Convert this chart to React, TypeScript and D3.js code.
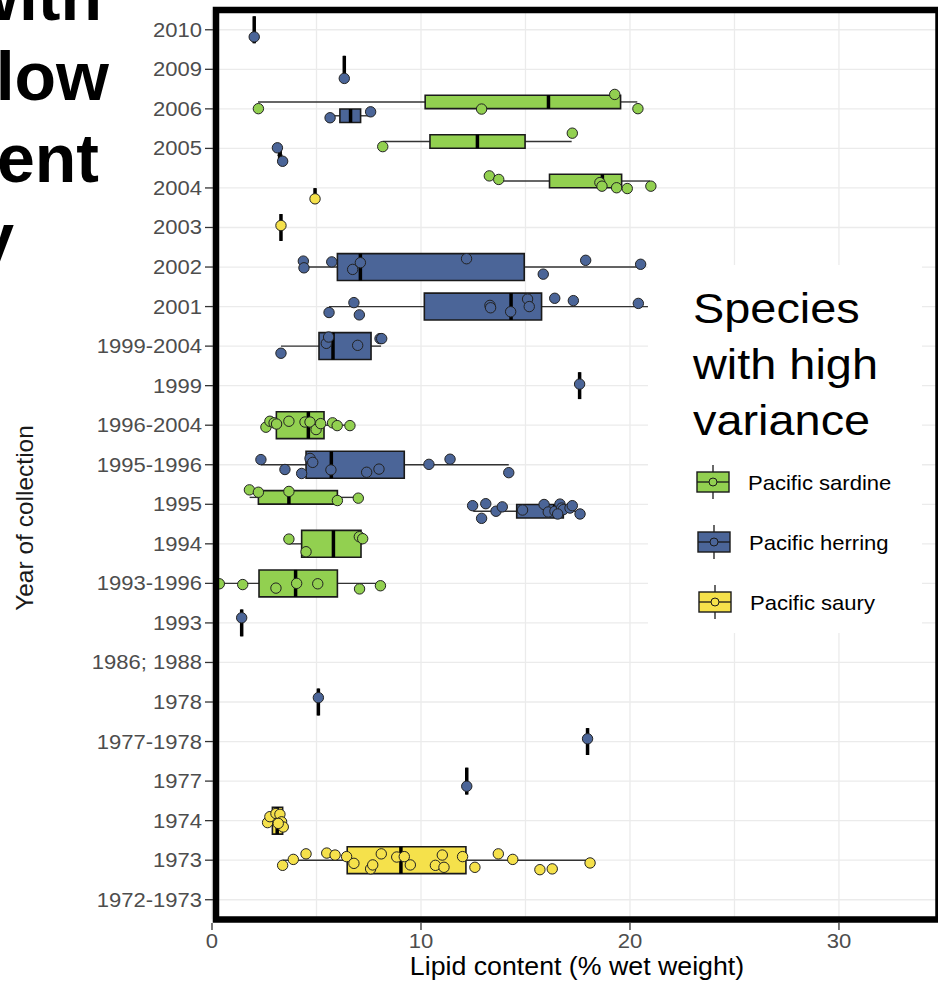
import React from 'react'
import * as d3 from 'd3'

const years = ['2010', '2009', '2006', '2005', '2004', '2003', '2002', '2001', '1999-2004', '1999',
  '1996-2004', '1995-1996', '1995', '1994', '1993-1996', '1993', '1986; 1988', '1978', '1977-1978',
  '1977', '1974', '1973', '1972-1973']
const species = ['Pacific sardine', 'Pacific herring', 'Pacific saury']
const colors = ['#92d050', '#4b6598', '#f5e14b']
const xTicks = [0, 10, 20, 30]
const xGrid = [0, 5, 10, 15, 20, 25, 30]

// [year, lower whisker, q1, median, q3, upper whisker]
const sardineBoxes = [
  ['2006', 2.2, 10.2, 16.1, 19.55, 20.35],
  ['2005', 8.17, 10.43, 12.7, 14.98, 17.21],
  ['2004', 13.5, 16.15, 18.68, 19.6, 20.96],
  ['1996-2004', 2.58, 3.08, 4.61, 5.36, 6.6],
  ['1995', 1.8, 2.22, 3.68, 6.0, 7.03],
  ['1994', 3.7, 4.29, 5.81, 7.13, 7.2],
  ['1993-1996', 0.35, 2.25, 4.0, 6.0, 8.05],
]
const herringBoxes = [
  ['2010', 2.02, 2.02, 2.02, 2.02, 2.02],
  ['2009', 6.33, 6.33, 6.33, 6.33, 6.33],
  ['2006', 5.65, 6.12, 6.63, 7.11, 7.59],
  ['2005', 3.13, 3.19, 3.25, 3.31, 3.38],
  ['2002', 4.37, 6.0, 7.1, 14.94, 20.51],
  ['2001', 5.6, 10.16, 14.31, 15.77, 20.86],
  ['1999-2004', 3.3, 5.12, 5.79, 7.61, 8.09],
  ['1999', 17.59, 17.59, 17.59, 17.59, 17.59],
  ['1995-1996', 2.34, 4.5, 5.71, 9.2, 14.2],
  ['1995', 12.5, 14.58, 16.4, 16.81, 17.61],
  ['1993', 1.42, 1.42, 1.42, 1.42, 1.42],
  ['1978', 5.09, 5.09, 5.09, 5.09, 5.09],
  ['1977-1978', 17.97, 17.97, 17.97, 17.97, 17.97],
  ['1977', 12.19, 12.19, 12.19, 12.19, 12.19],
]
const sauryBoxes = [
  ['2004', 4.93, 4.93, 4.93, 4.93, 4.93],
  ['2003', 3.3, 3.3, 3.3, 3.3, 3.3],
  ['1974', 2.66, 2.89, 3.12, 3.38, 3.41],
  ['1973', 3.38, 6.47, 9.04, 12.15, 18.1],
]

// [year, lipid value, vertical jitter (fraction of a row)]
const sardinePoints = [
  ['2006', 2.22, 0.17], ['2006', 12.9, 0.18], ['2006', 19.27, -0.19], ['2006', 20.38, 0.17],
  ['2005', 8.17, 0.13], ['2005', 17.24, -0.21],
  ['2004', 13.27, -0.13], ['2004', 13.72, -0.04], ['2004', 18.56, 0.04], ['2004', 18.66, 0.13],
  ['2004', 19.36, 0.17], ['2004', 19.87, 0.19], ['2004', 21.0, 0.13],
  ['1996-2004', 2.58, 0.05], ['1996-2004', 2.77, -0.1], ['1996-2004', 2.97, -0.06], ['1996-2004', 3.09, -0.03],
  ['1996-2004', 3.68, -0.1], ['1996-2004', 4.45, -0.08], ['1996-2004', 4.69, -0.08], ['1996-2004', 4.98, 0.11],
  ['1996-2004', 5.2, -0.04], ['1996-2004', 5.77, -0.06], ['1996-2004', 5.99, 0.01], ['1996-2004', 6.6, 0.01],
  ['1995', 1.79, -0.19], ['1995', 2.22, -0.13], ['1995', 3.68, -0.15], ['1995', 6.0, 0.08], ['1995', 7.0, 0.02],
  ['1994', 3.68, -0.12], ['1994', 4.5, 0.2], ['1994', 7.05, -0.18], ['1994', 7.21, -0.13],
  ['1993-1996', 0.35, 0.01], ['1993-1996', 1.47, 0.03], ['1993-1996', 3.06, 0.12], ['1993-1996', 4.05, 0],
  ['1993-1996', 5.06, 0.01], ['1993-1996', 7.06, 0.14], ['1993-1996', 8.06, 0.06],
]
const herringPoints = [
  ['2010', 2.02, 0.18], ['2009', 6.33, 0.23],
  ['2006', 5.65, 0.05], ['2006', 7.59, -0.1],
  ['2005', 3.13, -0.19], ['2005', 3.38, 0.15],
  ['2002', 4.37, -0.15], ['2002', 4.4, 0.02], ['2002', 5.73, -0.13], ['2002', 6.73, 0.06], ['2002', 7.1, -0.11],
  ['2002', 12.18, -0.21], ['2002', 17.88, -0.17], ['2002', 15.85, 0.18], ['2002', 20.51, -0.07],
  ['2001', 5.6, 0.15], ['2001', 6.79, -0.1], ['2001', 7.05, 0.21], ['2001', 13.3, -0.03], ['2001', 13.33, 0.03],
  ['2001', 14.29, 0.13], ['2001', 15.1, -0.19], ['2001', 15.18, 0], ['2001', 16.4, -0.21], ['2001', 17.29, -0.15],
  ['2001', 20.4, -0.08],
  ['1999-2004', 3.3, 0.18], ['1999-2004', 5.47, -0.07], ['1999-2004', 5.58, -0.23], ['1999-2004', 6.97, -0.02],
  ['1999-2004', 8.04, -0.19], ['1999-2004', 8.12, -0.19],
  ['1999', 17.59, -0.04],
  ['1995-1996', 2.34, -0.13], ['1995-1996', 3.49, 0.12], ['1995-1996', 4.29, 0.22], ['1995-1996', 4.69, -0.16],
  ['1995-1996', 4.82, -0.06], ['1995-1996', 5.69, 0.13], ['1995-1996', 7.4, 0.19], ['1995-1996', 7.99, 0.11],
  ['1995-1996', 10.38, -0.01], ['1995-1996', 11.39, -0.14], ['1995-1996', 14.2, 0.2],
  ['1995', 12.47, -0.14], ['1995', 13.1, -0.19], ['1995', 12.9, 0.18], ['1995', 13.59, 0], ['1995', 13.89, -0.11],
  ['1995', 14.86, -0.03], ['1995', 15.89, -0.17], ['1995', 16.09, 0.02], ['1995', 16.41, 0], ['1995', 16.65, -0.18],
  ['1995', 16.73, -0.08], ['1995', 16.81, -0.04], ['1995', 16.54, 0.07], ['1995', 17.13, -0.08], ['1995', 17.24, -0.14],
  ['1995', 17.61, 0.07],
  ['1993', 1.42, -0.13], ['1978', 5.09, -0.11], ['1977-1978', 17.97, -0.07], ['1977', 12.19, 0.13],
]
const sauryPoints = [
  ['2004', 4.93, 0.1], ['2003', 3.3, -0.05],
  ['1974', 2.66, 0.05], ['1974', 2.77, -0.1], ['1974', 3.06, -0.18], ['1974', 3.25, -0.16], ['1974', 3.33, 0.03],
  ['1974', 3.41, 0.16], ['1974', 3.17, 0.07],
  ['1973', 3.38, 0.13], ['1973', 3.89, -0.02], ['1973', 4.5, -0.16], ['1973', 5.49, -0.18], ['1973', 5.89, -0.13],
  ['1973', 6.44, -0.09], ['1973', 6.79, 0.08], ['1973', 7.59, 0.22], ['1973', 7.69, 0.12], ['1973', 8.1, -0.16],
  ['1973', 8.84, -0.08], ['1973', 9.2, -0.09], ['1973', 9.49, 0.12], ['1973', 10.69, 0.13], ['1973', 11.02, -0.13],
  ['1973', 11.1, 0.18], ['1973', 11.99, -0.09], ['1973', 12.58, 0.18], ['1973', 13.7, -0.16], ['1973', 14.39, -0.02],
  ['1973', 15.69, 0.24], ['1973', 16.28, 0.22], ['1973', 18.09, 0.07],
]

const boxesBySpecies: any[][] = [sardineBoxes, herringBoxes, sauryBoxes]
const pointsBySpecies: any[][] = [sardinePoints, herringPoints, sauryPoints]

const font = '"Liberation Sans", Arial, sans-serif'

export default function App() {
  const panel = { left: 216, top: 10, right: 938.5, bottom: 919.5 }
  const x = d3.scaleLinear().domain([0, 34.6]).range([212, 935.1])
  const y = d3.scalePoint().domain(years).range([panel.top, panel.bottom]).padding(0.5)
  const step = y.step()

  // dodge: which species share a row
  const present = (yr: string) => species.map((_, i) => i).filter(i => boxesBySpecies[i].some(b => b[0] === yr))
  const groupCenter = (yr: string, si: number) => {
    const p = present(yr)
    if (p.length < 2) return y(yr) as number
    return (y(yr) as number) + (p.indexOf(si) === 0 ? -0.175 : 0.175) * step
  }
  const groupHeight = (yr: string) => (present(yr).length < 2 ? 0.68 : 0.34) * step

  return (
    <svg width={938} height={983} style={{ position: 'absolute', left: 0, top: 0, background: '#fff' }} fontFamily={font}>
      {/* slide title fragments */}
      <g fontWeight="bold" fontSize={68} textAnchor="end" fill="#000">
        <text x={102} y={20}>with</text>
        <text x={109} y={100}>low</text>
        <text x={99} y={182}>ent</text>
        <text x={14} y={261}>y</text>
      </g>

      {/* grid */}
      <g stroke="#ebebeb" strokeWidth={1.3}>
        {xGrid.map(t => <line key={'v' + t} x1={x(t)} x2={x(t)} y1={panel.top} y2={panel.bottom} />)}
        {years.map(yr => <line key={'h' + yr} x1={panel.left} x2={panel.right} y1={y(yr)} y2={y(yr)} />)}
      </g>

      {/* boxplots */}
      {boxesBySpecies.map((boxes, si) => boxes.map((b: any) => {
        const [yr, lo, q1, med, q3, hi] = b
        const cy = groupCenter(yr, si)
        const h = groupHeight(yr)
        const single = lo === hi
        return (
          <g key={si + yr}>
            <line x1={x(lo)} x2={x(q1)} y1={cy} y2={cy} stroke="#333" strokeWidth={1.4} />
            <line x1={x(q3)} x2={x(hi)} y1={cy} y2={cy} stroke="#333" strokeWidth={1.4} />
            <path d={`M${x(q1)},${cy - h / 2}H${x(q3)}V${cy + h / 2}H${x(q1)}Z`}
              fill={colors[si]} stroke="#1a1a1a" strokeWidth={single ? 2 : 1.6} />
            <line x1={x(med)} x2={x(med)} y1={cy - h / 2} y2={cy + h / 2} stroke="#000" strokeWidth={3.5} />
          </g>
        )
      }))}

      {/* jittered points */}
      {pointsBySpecies.map((pts, si) => pts.map((p: any, i: number) => {
        const [yr, v, j] = p
        return <circle key={si + '-' + i} cx={x(v)} cy={groupCenter(yr, si) + j * step} r={5.2}
          fill={colors[si]} stroke="#222" strokeWidth={1} />
      }))}

      {/* legend */}
      <rect x={648} y={265} width={274} height={368} fill="#fff" />
      <g fontSize={43} fill="#000">
        {['Species', 'with high', 'variance'].map((s, i) =>
          <text key={s} transform={`translate(693,${323 + i * 56}) scale(1.09,1)`}>{s}</text>)}
      </g>
      {species.map((s, i) => {
        const cy = 482 + i * 60
        const kx = 697 + i
        return (
          <g key={s}>
            <line x1={kx + 16} x2={kx + 16} y1={cy - 17} y2={cy + 17} stroke="#1a1a1a" strokeWidth={1.3} />
            <rect x={kx} y={cy - 10} width={32} height={20} fill={colors[i]} stroke="#1a1a1a" strokeWidth={1.4} />
            <line x1={kx} x2={kx + 32} y1={cy} y2={cy} stroke="#1a1a1a" strokeWidth={1.3} />
            <circle cx={kx + 16} cy={cy} r={4} fill={colors[i]} stroke="#1a1a1a" strokeWidth={1} />
            <text transform={`translate(${kx + 51},${cy + 7.5}) scale(1.05,1)`} fontSize={21} fill="#000">{s}</text>
          </g>
        )
      })}

      {/* panel frame */}
      <rect x={panel.left} y={panel.top} width={panel.right - panel.left} height={panel.bottom - panel.top}
        fill="none" stroke="#000" strokeWidth={6.5} />

      {/* y axis */}
      {years.map(yr => (
        <g key={'yt' + yr}>
          <line x1={205} x2={213} y1={y(yr)} y2={y(yr)} stroke="#333" strokeWidth={1.3} />
          <text transform={`translate(202,${(y(yr) as number) + 7}) scale(1.13,1)`} textAnchor="end"
            fontSize={19.5} fill="#4d4d4d">{yr}</text>
        </g>
      ))}
      <text transform="translate(33,518) rotate(-90)" textAnchor="middle" fontSize={24.5} fill="#1a1a1a">Year of collection</text>

      {/* x axis */}
      {xTicks.map(t => (
        <g key={'xt' + t}>
          <line x1={x(t)} x2={x(t)} y1={923} y2={930} stroke="#333" strokeWidth={1.3} />
          <text transform={`translate(${x(t)},948) scale(1.05,1)`} textAnchor="middle" fontSize={21} fill="#4d4d4d">{t}</text>
        </g>
      ))}
      <text transform="translate(577,975) scale(1.07,1)" textAnchor="middle" fontSize={25} fill="#000">Lipid content (% wet weight)</text>
    </svg>
  )
}
